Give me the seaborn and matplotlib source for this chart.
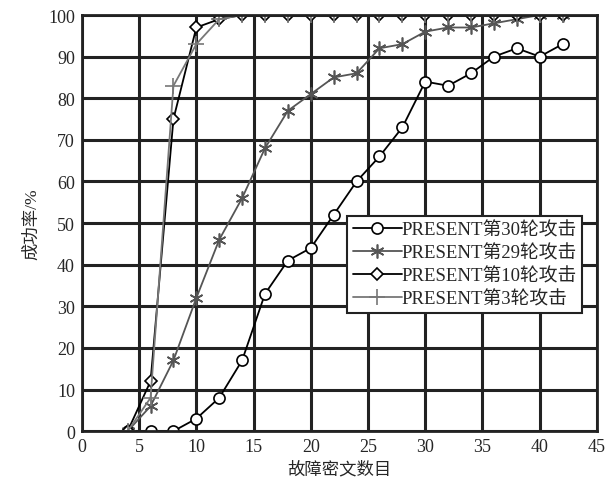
import pandas as pd
import matplotlib
matplotlib.use('Agg')
import matplotlib.pyplot as plt
import seaborn as sns

# fault ciphertext counts and success rates
x_vals = [4, 6, 8, 10, 12, 14, 16, 18, 20, 22, 24, 26, 28, 30, 32, 34, 36, 38, 40, 42]
round30 = [0, 0, 0, 3, 8, 17, 33, 41, 44, 52, 60, 66, 73, 84, 83, 86, 90, 92, 90, 93]
round29 = [0, 6, 17, 32, 46, 56, 68, 77, 81, 85, 86, 92, 93, 96, 97, 97, 98, 99, 100, 100]
round10 = [0, 12, 75, 97, 99, 100, 100, 100, 100, 100, 100, 100, 100, 100, 100, 100, 100, 100, 100, 100]
round3 = [0, 8, 83, 93, 99, 100, 100, 100, 100, 100, 100, 100, 100, 100, 100, 100, 100, 100, 100, 100]

labels = ['PRESENT第30轮攻击', 'PRESENT第29轮攻击', 'PRESENT第10轮攻击', 'PRESENT第3轮攻击']
x_ticks = [0, 5, 10, 15, 20, 25, 30, 35, 40, 45]
y_ticks = [0, 10, 20, 30, 40, 50, 60, 70, 80, 90, 100]

sns.set_style("white")
plt.rcParams['font.family'] = ['Liberation Serif', 'Noto Sans CJK SC']
plt.rcParams['axes.unicode_minus'] = False

fig = plt.figure(figsize=(6.11, 4.85), dpi=100)
ax = fig.add_axes([0.134, 0.109, 0.843, 0.858])

styles = [
    (round30, 'black', 'o', 8, 'white'),
    (round29, '#555555', (6, 2, 0), 10, '#555555'),
    (round10, 'black', 'D', 6.5, 'white'),
    (round3, '#777777', '+', 11, '#777777'),
]

for (vals, col, mk, ms, fc), lab in zip(styles, labels):
    df = pd.DataFrame({'x': x_vals, 'y': vals})
    sns.lineplot(data=df, x='x', y='y', ax=ax, color=col, marker=mk, markersize=ms,
                 markerfacecolor=fc, markeredgecolor=col, markeredgewidth=1.2,
                 linewidth=1.3, label=lab)

ax.set_xlim(0, 45)
ax.set_ylim(0, 100)
ax.set_xticks(x_ticks)
ax.set_yticks(y_ticks)
ax.tick_params(direction='in', labelsize=13, length=4, pad=5)
ax.grid(True, color='#222222', linewidth=2.2)
ax.set_axisbelow(True)
for s in ax.spines.values():
    s.set_color('#222222')
    s.set_linewidth(2)

ax.set_xlabel('故障密文数目', fontsize=12.5, labelpad=4)
ax.set_ylabel('成功率/%', fontsize=12.5, labelpad=6)

leg = ax.legend(loc='upper left', bbox_to_anchor=(0.515, 0.518), fontsize=13.5,
                frameon=True, fancybox=False, edgecolor='#222222', framealpha=1,
                handlelength=2.6, handletextpad=0.0, borderpad=0.3, labelspacing=0.3,
                borderaxespad=0)
leg.get_frame().set_linewidth(1.5)

plt.savefig('out.png', dpi=100)
plt.close()
